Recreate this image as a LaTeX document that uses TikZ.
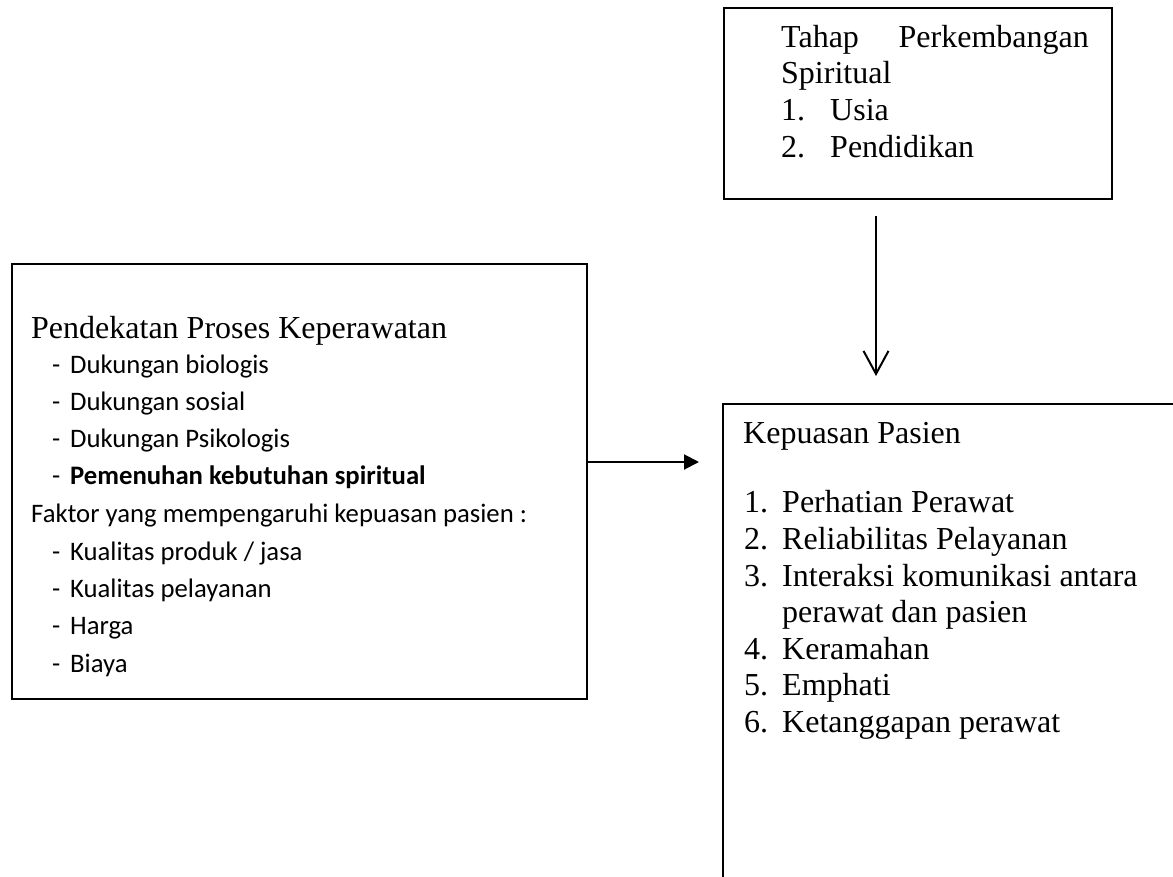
\documentclass[tikz,border=0pt]{standalone}
\usepackage{fontspec}
\setmainfont{Liberation Serif}
\newfontfamily\carlito{Carlito}
\usetikzlibrary{arrows.meta}
\begin{document}
\begin{tikzpicture}[x=1pt,y=-1pt,
  box/.style={draw,line width=1.7pt,rectangle,inner sep=0pt,anchor=north west},
  serif/.style={font=\fontsize{32}{37}\selectfont,anchor=base west,inner sep=0pt},
  serifr/.style={font=\fontsize{32}{37}\selectfont,anchor=base east,inner sep=0pt},
  sans/.style={font=\carlito\fontsize{26.7}{37}\selectfont,anchor=base west,inner sep=0pt},
  conn/.style={line width=2pt}]
\clip (0,0) rectangle (1173,876);
\fill[white] (0,0) rectangle (1173,876);
% boxes
\node[box,minimum width=388pt,minimum height=191pt] (tbox) at (723,7) {};
\node[box,minimum width=575pt,minimum height=435pt] (lbox) at (11,263) {};
\node[box,minimum width=520pt,minimum height=520pt] (rbox) at (722,403) {};
% top box text
\node[serif] (t1) at (781,47) {Tahap};
\node[serifr] (t2) at (1089,47) {Perkembangan};
\node[serif] (t3) at (781,83) {Spiritual};
\node[serif] (t4n) at (781,120) {1.};
\node[serif] (t4) at (830,120) {Usia};
\node[serif] (t5n) at (781,157) {2.};
\node[serif] (t5) at (830,157) {Pendidikan};
% left box text
\node[serif] (l0) at (31,338) {Pendekatan Proses Keperawatan};
\node[sans] (d1) at (52,373) {-};
\node[sans] (l1) at (70,373) {Dukungan biologis};
\node[sans] (d2) at (52,410) {-};
\node[sans] (l2) at (70,410) {Dukungan sosial};
\node[sans] (d3) at (52,447) {-};
\node[sans] (l3) at (70,447) {Dukungan Psikologis};
\node[sans] (d4) at (52,484) {-};
\node[sans] (l4) at (70,484) {\bfseries Pemenuhan kebutuhan spiritual};
\node[sans] (l5) at (31,522) {Faktor yang mempengaruhi kepuasan pasien :};
\node[sans] (d6) at (52,560) {-};
\node[sans] (l6) at (70,560) {Kualitas produk / jasa};
\node[sans] (d7) at (52,597) {-};
\node[sans] (l7) at (70,597) {Kualitas pelayanan};
\node[sans] (d8) at (52,634) {-};
\node[sans] (l8) at (70,634) {Harga};
\node[sans] (d9) at (52,672) {-};
\node[sans] (l9) at (70,672) {Biaya};
% right box text
\node[serif] (r0) at (743,443) {Kepuasan Pasien};
\node[serif] (r1n) at (744,512) {1.};
\node[serif] (r1) at (782,512) {Perhatian Perawat};
\node[serif] (r2n) at (744,549) {2.};
\node[serif] (r2) at (782,549) {Reliabilitas Pelayanan};
\node[serif] (r3n) at (744,586) {3.};
\node[serif] (r3) at (782,586) {Interaksi komunikasi antara};
\node[serif] (r3b) at (782,622) {perawat dan pasien};
\node[serif] (r4n) at (744,659) {4.};
\node[serif] (r4) at (782,659) {Keramahan};
\node[serif] (r5n) at (744,695) {5.};
\node[serif] (r5) at (782,695) {Emphati};
\node[serif] (r6n) at (744,732) {6.};
\node[serif] (r6) at (782,732) {Ketanggapan perawat};
% connectors
\coordinate (htip) at (699,462);
\draw[conn,-{Triangle[length=15pt,width=15pt]}] (lbox.east |- htip) -- (htip);
\coordinate (vstart) at (876,216);
\coordinate (vtip) at (876,376);
\draw[conn,-{Straight Barb[length=23pt,width=25pt,line width=2pt]}] (vstart) -- (vtip);
\end{tikzpicture}
\end{document}
